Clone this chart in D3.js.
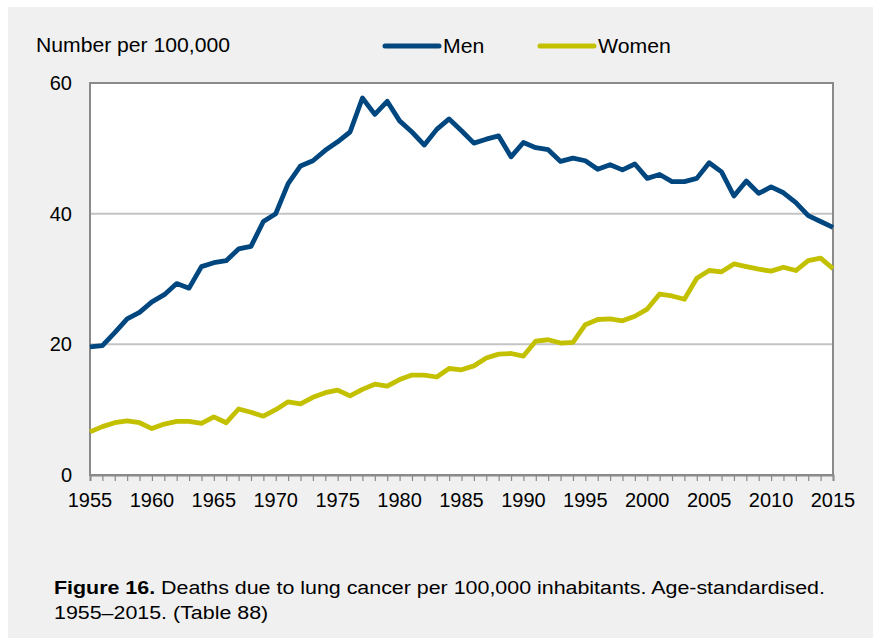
<!DOCTYPE html>
<html>
<head>
<meta charset="utf-8">
<script src="https://cdn.jsdelivr.net/npm/d3@7"></script>
<style>
  body { margin: 0; background: #fff; }
  text { font-family: "Liberation Sans", Arial, sans-serif; fill: #000; }
</style>
</head>
<body>
<div class="chart"></div>
<script>
// 資料
const years = d3.range(1955, 2016);
const men = [
  19.6, 19.8, 21.8, 23.9, 24.9, 26.5, 27.6, 29.3, 28.6, 31.9,
  32.5, 32.8, 34.6, 35.0, 38.8, 40.0, 44.6, 47.3, 48.1, 49.7,
  51.0, 52.5, 57.7, 55.2, 57.2, 54.2, 52.5, 50.5, 52.9, 54.5,
  52.7, 50.8, 51.4, 51.9, 48.7, 50.9, 50.1, 49.8, 48.0, 48.5,
  48.1, 46.8, 47.5, 46.7, 47.6, 45.4, 46.0, 44.9, 44.9, 45.4,
  47.8, 46.4, 42.7, 45.0, 43.1, 44.1, 43.2, 41.7, 39.7, 38.8,
  37.9
];
const women = [
  6.6, 7.4, 8.0, 8.3, 8.0, 7.1, 7.8, 8.2, 8.2, 7.9,
  8.9, 8.0, 10.1, 9.6, 9.0, 10.0, 11.2, 10.9, 11.9, 12.6,
  13.0, 12.1, 13.1, 13.9, 13.6, 14.6, 15.3, 15.3, 15.0, 16.3,
  16.1, 16.7, 17.9, 18.5, 18.6, 18.2, 20.5, 20.7, 20.2, 20.3,
  23.0, 23.8, 23.9, 23.6, 24.3, 25.4, 27.7, 27.4, 26.9, 30.1,
  31.3, 31.1, 32.3, 31.9, 31.5, 31.2, 31.8, 31.3, 32.8, 33.2,
  31.6
];
const yTicks = [0, 20, 40, 60];
const xTicks = d3.range(1955, 2016, 5);
const seriesNames = ["Men", "Women"];

let chart = {
  svg: {},
  config: {
    svgW: 873,
    svgH: 638,
    left: 90,
    top: 83,
    right: 833,
    bottom: 475,
    colors: ["#00467f", "#c3c000"]
  },
  init: function () {
    this.svg = d3.select('.chart').append('svg')
      .attr('width', this.config.svgW)
      .attr('height', this.config.svgH);
    this.frame();
    this.axes();
    this.lines();
    this.legend();
  },
  // 文字稍微水平拉寬，跟原圖一樣
  stretchText: function (x, y, size, sx) {
    return this.svg.append('text')
      .attr('transform', `translate(${x},${y}) scale(${sx},1)`)
      .style('font-size', size + 'px');
  },
  frame: function () {
    // 灰色底
    this.svg.append('rect')
      .attr('x', 8).attr('y', 7)
      .attr('width', this.config.svgW - 8)
      .attr('height', this.config.svgH - 7)
      .attr('fill', '#f0f0f0');
    // 圖表區
    this.svg.append('rect')
      .attr('x', this.config.left).attr('y', this.config.top)
      .attr('width', this.config.right - this.config.left)
      .attr('height', this.config.bottom - this.config.top)
      .attr('fill', '#fff')
      .attr('stroke', '#8a8a8a')
      .attr('stroke-width', 2);
  },
  axes: function () {
    let c = this.config;
    this.x = d3.scaleLinear().domain([1955, 2015]).range([c.left, c.right]);
    this.y = d3.scaleLinear().domain([0, 60]).range([c.bottom, c.top]);
    let x = this.x, y = this.y;

    // 格線
    this.svg.selectAll('line.grid')
      .data(yTicks.filter(d => d > 0 && d < 60))
      .enter().append('line')
      .attr('class', 'grid')
      .attr('x1', c.left + 1).attr('x2', c.right - 1)
      .attr('y1', d => y(d)).attr('y2', d => y(d))
      .attr('stroke', '#c4c4c4')
      .attr('stroke-width', 2);

    // x 軸小刻度
    let xAxis = d3.axisBottom(x)
      .tickValues(years)
      .tickSize(6)
      .tickFormat('');
    let gx = this.svg.append('g')
      .attr('transform', `translate(0,${c.bottom})`)
      .call(xAxis);
    gx.select('.domain').attr('stroke', '#8a8a8a').attr('stroke-width', 2);
    gx.selectAll('.tick line').attr('stroke', '#8a8a8a').attr('stroke-width', 1.2);

    // x 軸文字
    this.svg.selectAll('text.xlab')
      .data(xTicks)
      .enter().append('text')
      .attr('class', 'xlab')
      .attr('x', d => x(d))
      .attr('y', 507)
      .attr('text-anchor', 'middle')
      .style('font-size', '20px')
      .text(d => d);

    // y 軸文字
    this.svg.selectAll('text.ylab')
      .data(yTicks)
      .enter().append('text')
      .attr('class', 'ylab')
      .attr('x', 72)
      .attr('y', d => y(d) + 7)
      .attr('text-anchor', 'end')
      .style('font-size', '20px')
      .text(d => d);

    this.stretchText(36, 52, 19.5, 1.085).text('Number per 100,000');

    // 說明文字
    let cap = this.stretchText(54, 594, 18, 1.19);
    cap.append('tspan').style('font-weight', 'bold').text('Figure 16.');
    cap.append('tspan').text(' Deaths due to lung cancer per 100,000 inhabitants. Age-standardised.');
    this.stretchText(54, 619, 18, 1.19).text('1955\u20132015. (Table 88)');
  },
  lines: function () {
    let x = this.x, y = this.y;
    let line = d3.line()
      .x((d, i) => x(years[i]))
      .y(d => y(d));
    [men, women].forEach((s, i) => {
      this.svg.append('path')
        .datum(s)
        .attr('fill', 'none')
        .attr('stroke', this.config.colors[i])
        .attr('stroke-width', 4.8)
        .attr('stroke-linejoin', 'round')
        .attr('d', line);
    });
  },
  legend: function () {
    let pos = [[385, 439, 443], [540, 594, 598]];
    seriesNames.forEach((name, i) => {
      this.svg.append('line')
        .attr('x1', pos[i][0]).attr('x2', pos[i][1])
        .attr('y1', 46).attr('y2', 46)
        .attr('stroke', this.config.colors[i])
        .attr('stroke-width', 5)
        .attr('stroke-linecap', 'round');
      this.stretchText(pos[i][2], 53, 19.5, 1.09).text(name);
    });
  }
};

chart.init();
</script>
</body>
</html>
